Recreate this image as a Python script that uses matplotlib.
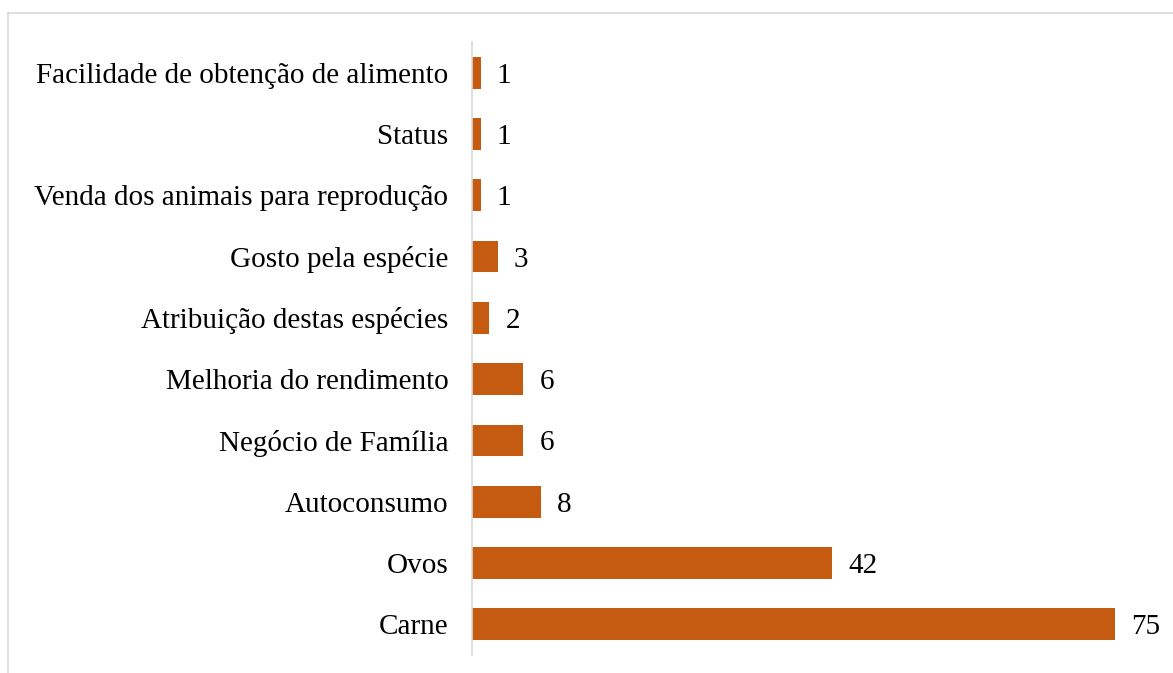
import matplotlib.pyplot as plt
from matplotlib.lines import Line2D

categories = ['Carne', 'Ovos', 'Autoconsumo', 'Negócio de Família', 'Melhoria do rendimento',
              'Atribuição destas espécies', 'Gosto pela espécie', 'Venda dos animais para reprodução',
              'Status', 'Facilidade de obtenção de alimento']
values = [75, 42, 8, 6, 6, 2, 3, 1, 1, 1]

plt.rcParams['font.family'] = ['Liberation Serif', 'DejaVu Serif']

fig = plt.figure(figsize=(11.73, 6.73), dpi=100)
ax = fig.add_axes([472/1173, 1-655/673, (1115-472)/1173, (655-42)/673])

pos = list(range(len(categories)))
ax.barh(pos, values, height=0.52, color='#C55A11')
for p, v in zip(pos, values):
    ax.text(v + 1.9, p, str(v), va='center_baseline', ha='left', fontsize=21)

ax.set_xlim(0, 75)
ax.set_ylim(-0.5, len(categories)-0.5)
ax.set_yticks(pos)
ax.set_yticklabels(categories, fontsize=21, va='center_baseline')
ax.tick_params(axis='y', length=0, pad=17)
ax.set_xticks([])
for s in ['top', 'right', 'bottom']:
    ax.spines[s].set_visible(False)
ax.spines['left'].set_color('#d9d9d9')
ax.spines['left'].set_linewidth(1.2)

# outer chart border
fig.add_artist(Line2D([8/1173, 8/1173], [0, 1-13/673], color='#d9d9d9', lw=1.2))
fig.add_artist(Line2D([8/1173, 1], [1-13/673, 1-13/673], color='#d9d9d9', lw=1.2))

fig.savefig('out.png', dpi=100)
